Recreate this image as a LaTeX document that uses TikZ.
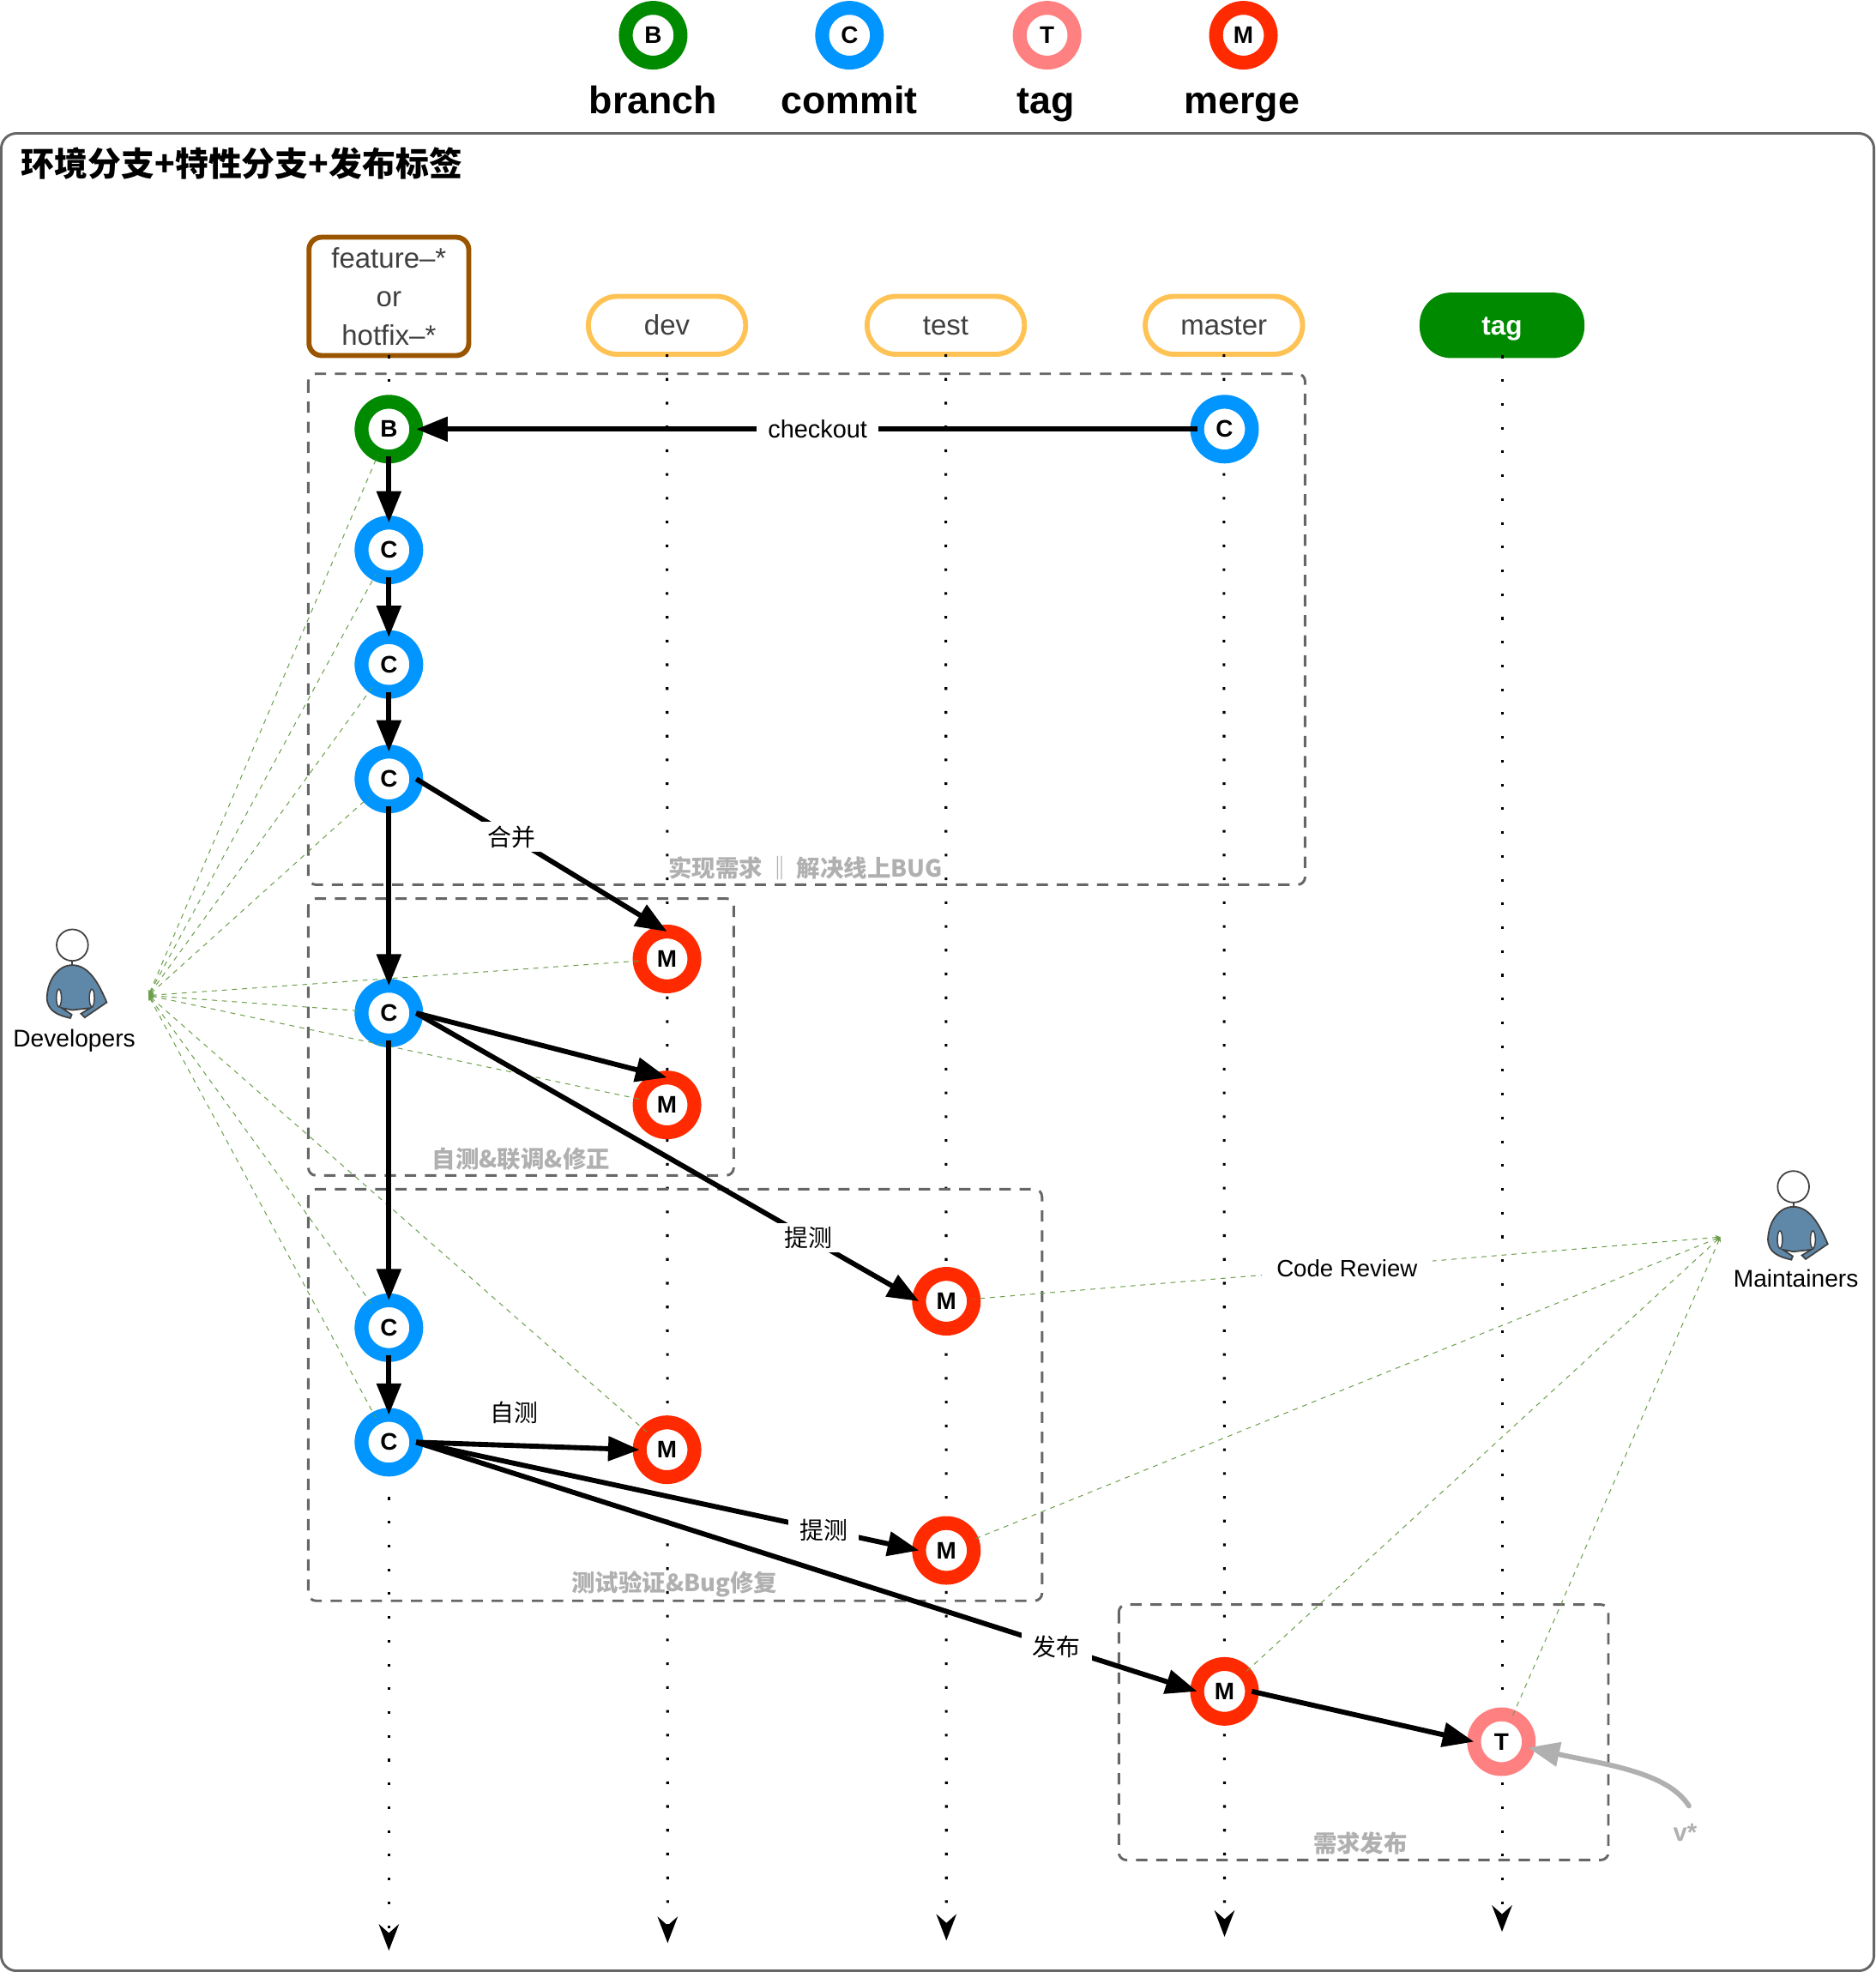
\documentclass[tikz,border=0pt]{standalone}
\usepackage{fontspec}
\setmainfont{Liberation Sans}
\newfontfamily\cjk{Noto Sans CJK SC}
\usetikzlibrary{arrows.meta}

\definecolor{branchcol}{HTML}{008A00}
\definecolor{commitcol}{HTML}{0095FF}
\definecolor{tagcol}{HTML}{FF8080}
\definecolor{mergecol}{HTML}{FF2A00}
\definecolor{linkcol}{HTML}{2D7600}
\definecolor{framecol}{HTML}{666666}
\definecolor{headcol}{HTML}{404040}
\definecolor{softcol}{HTML}{B0B0B0}
\definecolor{bodycol}{HTML}{5F87A8}
\definecolor{featcol}{HTML}{995500}
\definecolor{envcol}{HTML}{FFC355}

\tikzset{
    ring/.style={circle, draw, line width=11pt, minimum size=43.5pt, inner sep=0pt, outer sep=0pt, fill=white, text=black, font=\fontsize{19}{21}\selectfont\bfseries},
    legendlabel/.style={anchor=base, font=\fontsize{30.5}{34}\selectfont\bfseries},
    branchhead/.style={rectangle, draw=envcol, line width=4pt, rounded corners=23pt, minimum width=125pt, minimum height=46pt, inner sep=0pt, outer sep=0pt, text=headcol, text height=15pt, text depth=0pt, font=\fontsize{22.5}{24}\selectfont},
    lifeline/.style={line width=2.1pt, dash pattern=on 2.1pt off 16.8pt, -{Stealth[length=21pt, width=16pt, inset=7pt]}},
    flow/.style={line width=4pt, -{Triangle[length=25pt, width=19pt]}},
    flowlabel/.style={fill=white, inner xsep=9pt, inner ysep=3pt, font=\fontsize{19}{22}\selectfont\cjk},
    group/.style={draw=framecol, line width=2pt, dash pattern=on 9pt off 7pt, rounded corners=6pt},
    grouplabel/.style={text=softcol, font=\fontsize{18.7}{24}\selectfont\cjk\bfseries},
    link/.style={draw=linkcol!70, line width=0.7pt, dash pattern=on 4pt off 4pt, {Stealth[length=4pt, width=4pt]}-},
    person/.pic={
        \draw[line width=1.2pt, draw=black!75, fill=white] (0,0) circle (12.5);
        \draw[line width=1.2pt, draw=black!75] (0,12.5) -- (0,15.9);
        \draw[line width=1.2pt, draw=black!75, fill=bodycol] (0,15.9) .. controls (13.2,15.9) and (21.1,30.7) .. (27.3,45.5) -- (9.8,57.5) -- (6.8,54.5) -- (14.3,50) -- (0,51.6) -- (-8.4,50) -- (-0.5,55.2) -- (-1.6,58) .. controls (-11.8,55.7) and (-19.8,52.3) .. (-20.2,42) .. controls (-19.8,28.4) and (-11.8,15.9) .. (0,15.9) -- cycle;
        \draw[line width=1pt, draw=black!75, fill=white] (-10.7,42) ellipse (2 and 7);
        \draw[line width=1pt, draw=black!75, fill=white] (15.5,42) ellipse (2 and 7);
    },
    personlabel/.style={anchor=base, font=\fontsize{19.2}{23}\selectfont}
}

\begin{document}
\begin{tikzpicture}[x=1pt, y=-1pt]
        \useasboundingbox (0,0) rectangle (1490,1567);

        % Legend
        \node[ring, draw=branchcol] at (519, 28) (legb) {B};
        \node[ring, draw=commitcol] at (675, 28) (legc) {C};
        \node[ring, draw=tagcol]    at (832, 28) (legt) {T};
        \node[ring, draw=mergecol]  at (988, 28) (legm) {M};
        \node[legendlabel] at (519, 90) (legbtext) {branch};
        \node[legendlabel] at (675, 90) (legctext) {commit};
        \node[legendlabel] at (831, 90) (legttext) {tag};
        \node[legendlabel] at (987, 90) (legmtext) {merge};

        % Frame
        \draw[draw=framecol, line width=2pt, rounded corners=12pt] (1, 106) rectangle (1489, 1566);
        \node[anchor=west, font=\fontsize{26.5}{32}\selectfont\cjk\bfseries] at (13.5, 130) (title) {环境分支+特性分支+发布标签};

        % Branch heads
        \node[branchhead, draw=featcol, rounded corners=10pt, minimum width=127pt, minimum height=94pt, text height=, text depth=, align=center, font=\fontsize{22.5}{30.5}\selectfont] at (309, 235.5) (feat) {feature–*\\or\\hotfix–*};
        \node[branchhead] at (530, 258.5) (dev) {dev};
        \node[branchhead] at (751.5, 258.5) (test) {test};
        \node[branchhead] at (972.5, 258.5) (master) {master};
        \node[branchhead, draw=branchcol, fill=branchcol, text=white, minimum width=127pt, minimum height=48pt, font=\fontsize{21.5}{24}\selectfont\bfseries] at (1193.5, 258.5) (tag) {tag};

        % Life lines
        \coordinate (featend)   at (309, 1550);
        \coordinate (devend)    at (530.5, 1544);
        \coordinate (testend)   at (752, 1542);
        \coordinate (masterend) at (973, 1539);
        \coordinate (tagend)    at (1193.5, 1535);
        \draw[lifeline] (feat.south)   -- (featend);
        \draw[lifeline] (dev.south)    -- (devend);
        \draw[lifeline] (test.south)   -- (testend);
        \draw[lifeline] (master.south) -- (masterend);
        \draw[lifeline] (tag.south)    -- (tagend);

        % Groups
        \draw[group] (245, 297) rectangle (1037, 703);
        \draw[group] (245, 714) rectangle (583, 934);
        \draw[group] (245, 945) rectangle (828, 1272);
        \draw[group] (889, 1275) rectangle (1278, 1478);
        \node[grouplabel] at (640, 690)  (groupa) {实现需求 ‖ 解决线上BUG};
        \node[grouplabel] at (414, 921)  (groupb) {自测\&联调\&修正};
        \node[grouplabel] at (536, 1259) (groupc) {测试验证\&Bug修复};
        \node[grouplabel] at (1081, 1465) (groupd) {需求发布};

        % Nodes
        \node[ring, draw=branchcol] at (309, 341)  (b1) {B};
        \node[ring, draw=commitcol] at (309, 437)  (c1) {C};
        \node[ring, draw=commitcol] at (309, 528)  (c2) {C};
        \node[ring, draw=commitcol] at (309, 619)  (c3) {C};
        \node[ring, draw=commitcol] at (309, 805)  (c4) {C};
        \node[ring, draw=commitcol] at (309, 1055) (c5) {C};
        \node[ring, draw=commitcol] at (309, 1146) (c6) {C};
        \node[ring, draw=commitcol] at (973, 341)  (c7) {C};
        \node[ring, draw=mergecol]  at (530, 762)  (m1) {M};
        \node[ring, draw=mergecol]  at (530, 878)  (m2) {M};
        \node[ring, draw=mergecol]  at (530, 1152) (m3) {M};
        \node[ring, draw=mergecol]  at (752, 1034) (m4) {M};
        \node[ring, draw=mergecol]  at (752, 1232) (m5) {M};
        \node[ring, draw=mergecol]  at (973, 1344) (m6) {M};
        \node[ring, draw=tagcol]    at (1193, 1384) (t1) {T};

        % People
        \pic at (57.5, 751) {person};
        \pic at (1425, 943) {person};
        \node[personlabel] at (59, 832)    (developers) {Developers};
        \node[personlabel] at (1427, 1023) (maintainers) {Maintainers};
        \coordinate (hubdev)  at (118, 791);
        \coordinate (hubmain) at (1367, 983);

        \draw[link] (hubdev) -- (b1);
        \draw[link] (hubdev) -- (c1);
        \draw[link] (hubdev) -- (c2);
        \draw[link] (hubdev) -- (c3);
        \draw[link] (hubdev) -- (c4);
        \draw[link] (hubdev) -- (c5);
        \draw[link] (hubdev) -- (c6);
        \draw[link] (hubdev) -- (m1);
        \draw[link] (hubdev) -- (m2);
        \draw[link] (hubdev) -- (m3);

        \draw[link] (hubmain) -- node[fill=white, inner xsep=12pt, inner ysep=3pt, font=\fontsize{18.8}{23}\selectfont] {Code Review} (m4);
        \draw[link] (hubmain) -- (m5);
        \draw[link] (hubmain) -- (m6);
        \draw[link] (hubmain) -- (t1);

        % Flows
        \draw[flow] (c7.west) -- node[flowlabel, pos=0.486, font=\fontsize{19.7}{22}\selectfont] {checkout} (b1.east);

        \draw[flow] (b1.south) -- (c1.north);
        \draw[flow] (c1.south) -- (c2.north);
        \draw[flow] (c2.south) -- (c3.north);
        \draw[flow] (c3.south) -- (c4.north);
        \draw[flow] (c4.south) -- (c5.north);
        \draw[flow] (c5.south) -- (c6.north);

        \draw[flow] (c3.east) -- node[flowlabel, pos=0.38] {合并} (m1.north);
        \draw[flow] (c4.east) -- (m2.north);
        \draw[flow] (c4.east) -- node[flowlabel, pos=0.78] {提测} (m4.west);
        \draw[flow] (c6.east) -- node[font=\fontsize{19}{22}\selectfont\cjk, pos=0.44, yshift=26pt] {自测} (m3.west);
        \draw[flow] (c6.east) -- node[flowlabel, pos=0.81] {提测} (m5.west);
        \draw[flow] (c6.east) -- node[flowlabel, pos=0.82] {发布} (m6.west);
        \draw[flow] (m6.east) -- (t1.west);

        % Version
        \coordinate (vstart) at (1342, 1435);
        \node[text=softcol, font=\fontsize{20}{24}\selectfont\bfseries] at (1339, 1456) (vlabel) {v*};
        \draw[draw=softcol, line width=4pt, line cap=round, -{Triangle[length=25pt, width=19pt]}] (vstart) .. controls (1325, 1408) and (1275, 1402) .. (t1);
\end{tikzpicture}
\end{document}
